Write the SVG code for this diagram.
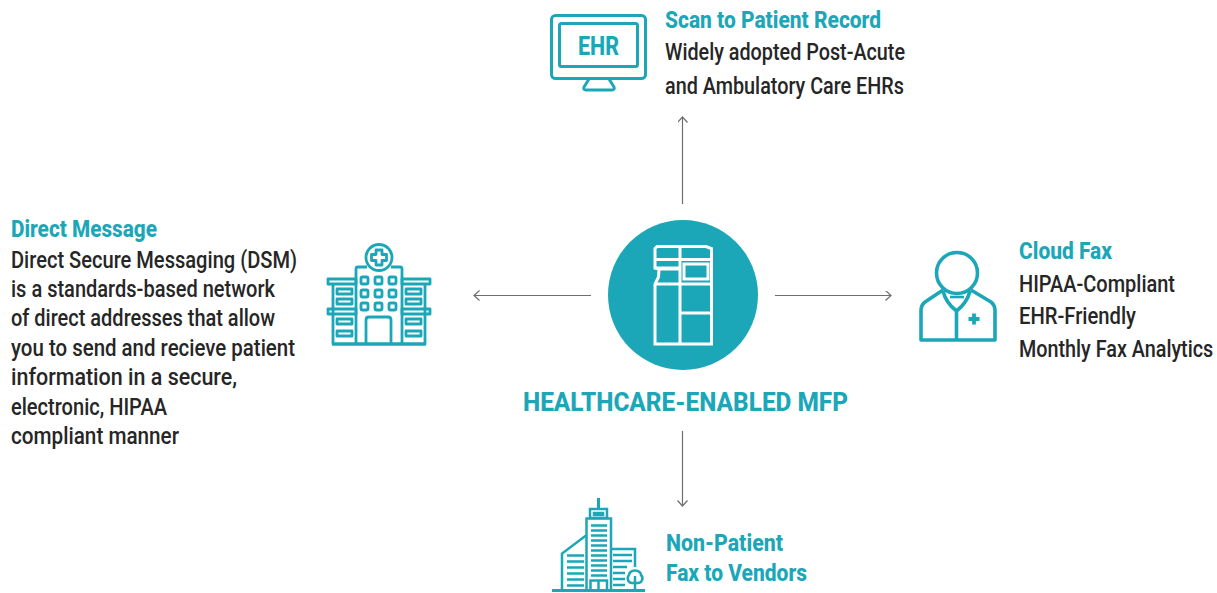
<svg xmlns="http://www.w3.org/2000/svg" width="1217" height="593" viewBox="0 0 1217 593">
<style>
text{font-family:"Roboto","Liberation Sans",sans-serif;font-size:23px;font-weight:500;fill:#262626}
.h{fill:#1ca7b8;font-weight:800}
.i{fill:none;stroke:#1ca7b8;stroke-width:2.800;stroke-linejoin:round}
.t{fill:none;stroke:#1ca7b8;stroke-width:2.500}
.d{fill:none;stroke:#1ca7b8;stroke-width:3.600;stroke-linejoin:round}
.w{fill:none;stroke:#fff;stroke-width:3}
.c{fill:none;stroke:#6e6e6e;stroke-width:1.200}
</style>
<defs>
<marker id="a" markerWidth="12" markerHeight="12" refX="10" refY="5" orient="auto" markerUnits="userSpaceOnUse"><path d="M4.500 0L10 5L4.500 10" fill="none" stroke="#6e6e6e" stroke-width="1.200"/></marker>
</defs>
<g id="connectors">
<path class="c" marker-end="url(#a)" d="M682.500 204V117"/>
<path class="c" marker-end="url(#a)" d="M591 295.500H474"/>
<path class="c" marker-end="url(#a)" d="M775 295.500H891"/>
<path class="c" marker-end="url(#a)" d="M682.500 431V506"/>
</g>
<g id="center">
<circle cx="683" cy="295" r="75" fill="#1ca7b8"/>
<path class="w" d="M655 268V248.500L657 246.500H706L711.500 248.500V344H655V284L658.500 277L659 269L655 268Z"/>
<path class="w" d="M655 259.500H711.500M655 268H680M659 269H680M655 284H711.500M680 246.500V344M680 313H711.500"/>
<rect class="w" x="684" y="264" width="24" height="15"/>
<text class="h" x="523" y="411" style="font-size:26px" textLength="325" lengthAdjust="spacingAndGlyphs">HEALTHCARE-ENABLED MFP</text>
</g>
<g id="ehr">
<rect class="i" style="stroke-width:3" x="551.500" y="15.500" width="94" height="63" rx="4"/>
<rect class="i" style="stroke-width:3" x="559.500" y="23.500" width="78" height="43" rx="2"/>
<path class="i" style="stroke-width:3" d="M589 79L584 87Q583 90 586 90H612Q615 90 614 87L609 79"/>
<text class="h" x="578" y="55" style="font-size:25px" textLength="41" lengthAdjust="spacingAndGlyphs">EHR</text>
<text class="h" x="665" y="28" textLength="216" lengthAdjust="spacingAndGlyphs">Scan to Patient Record</text>
<text x="665" y="60" textLength="240" lengthAdjust="spacingAndGlyphs">Widely adopted Post-Acute</text>
<text x="665" y="94" textLength="239" lengthAdjust="spacingAndGlyphs">and Ambulatory Care EHRs</text>
</g>
<g id="direct">
<text class="h" x="11" y="237" textLength="146" lengthAdjust="spacingAndGlyphs">Direct Message</text>
<text x="11" y="268" textLength="286" lengthAdjust="spacingAndGlyphs">Direct Secure Messaging (DSM)</text>
<text x="11" y="297" textLength="264" lengthAdjust="spacingAndGlyphs">is a standards-based network</text>
<text x="11" y="326" textLength="264" lengthAdjust="spacingAndGlyphs">of direct addresses that allow</text>
<text x="11" y="356" textLength="284" lengthAdjust="spacingAndGlyphs">you to send and recieve patient</text>
<text x="11" y="385" textLength="226" lengthAdjust="spacingAndGlyphs">information in a secure,</text>
<text x="11" y="415" textLength="156" lengthAdjust="spacingAndGlyphs">electronic, HIPAA</text>
<text x="11" y="444" textLength="168" lengthAdjust="spacingAndGlyphs">compliant manner</text>
<circle class="i" cx="379" cy="257.500" r="13"/>
<path class="i" d="M376 250H382V254.500H386.500V260.500H382V265H376V260.500H371.500V254.500H376Z"/>
<path class="i" d="M367 267H358Q356 267 356 269V344H402V269Q402 267 400 267H391"/>
<rect class="i" x="328" y="279" width="28" height="5"/><rect class="i" x="402" y="279" width="28" height="5"/>
<rect class="i" x="328" y="309" width="28" height="5"/><rect class="i" x="402" y="309" width="28" height="5"/>
<path class="i" d="M333 284V344H356M425 284V344H402M333 314V344M425 314V344"/>
<rect class="i" x="337" y="289" width="15" height="5"/><rect class="i" x="337" y="299" width="15" height="5"/>
<rect class="i" x="337" y="319" width="15" height="5"/><rect class="i" x="337" y="331" width="15" height="5"/>
<rect class="i" x="406" y="289" width="15" height="5"/><rect class="i" x="406" y="299" width="15" height="5"/>
<rect class="i" x="406" y="319" width="15" height="5"/><rect class="i" x="406" y="331" width="15" height="5"/>
<rect class="i" x="361" y="277" width="7" height="7" rx="1.500"/><rect class="i" x="375" y="277" width="7" height="7" rx="1.500"/><rect class="i" x="389" y="277" width="7" height="7" rx="1.500"/>
<rect class="i" x="361" y="290" width="7" height="7" rx="1.500"/><rect class="i" x="375" y="290" width="7" height="7" rx="1.500"/><rect class="i" x="389" y="290" width="7" height="7" rx="1.500"/>
<rect class="i" x="361" y="303" width="7" height="7" rx="1.500"/><rect class="i" x="375" y="303" width="7" height="7" rx="1.500"/><rect class="i" x="389" y="303" width="7" height="7" rx="1.500"/>
<path class="i" d="M366 344V320Q366 317 369 317H388Q391 317 391 320V344"/>
<path class="i" d="M332 344H426"/>
</g>
<g id="cloud">
<circle class="d" cx="957" cy="273" r="20.500"/>
<path class="d" d="M943 290L925 302Q921 305 921 311V340H995V311Q995 305 991 302L971 290M943 291Q946 303 956.500 311Q967 303 970 291M956.500 311V340"/>
<path class="d" style="stroke-width:2.600" d="M950 297H964"/>
<path class="d" style="stroke-width:3.800" d="M968.500 319H979.500M974 313.500V324.500"/>
<text class="h" x="1019" y="259" textLength="93" lengthAdjust="spacingAndGlyphs">Cloud Fax</text>
<text x="1019" y="292" textLength="156" lengthAdjust="spacingAndGlyphs">HIPAA-Compliant</text>
<text x="1019" y="324" textLength="117" lengthAdjust="spacingAndGlyphs">EHR-Friendly</text>
<text transform="translate(1019 357) scale(.86 1)" style="font-size:23px">Monthly Fax Analytics</text>
</g>
<g id="nonpatient">
<path class="t" style="stroke-width:3" d="M598.500 498V509M552 590.500H645"/>
<rect class="t" x="590" y="509" width="17" height="9"/>
<rect class="t" x="594" y="513" width="9" height="2"/>
<path class="t" d="M586.500 591V518.500H611V591"/>
<path class="t" d="M586 535.500L562 553.500V591M611 549H635V567"/>
<path class="t" d="M591 525.500H607M591 530.500H607M591 535.500H607M591 540.500H607M591 545.500H607M591 550.500H607M591 555.500H607M591 560.500H607M591 565.500H607M591 570.500H607M591 575.500H607M567 555.500H584M567 561.500H584M567 567.500H584M567 573.500H584M567 579.500H584M567 585.500H584M613 555H632M613 561H632M613 567H627M613 573H625M613 579H625M613 585H625"/>
<path class="t" d="M590.500 591V580.500H607V591M598.500 580.500V591"/>
<path class="t" d="M635 590V576M635 570.500C631 570.500 629 573 629 575C626.500 578 628 583 632 583H638C642 583 644 578 641 575C641 573 639 570.500 635 570.500Z"/>
<text class="h" x="666" y="551" textLength="117" lengthAdjust="spacingAndGlyphs">Non-Patient</text>
<text class="h" x="666" y="581" textLength="141" lengthAdjust="spacingAndGlyphs">Fax to Vendors</text>
</g>
</svg>
